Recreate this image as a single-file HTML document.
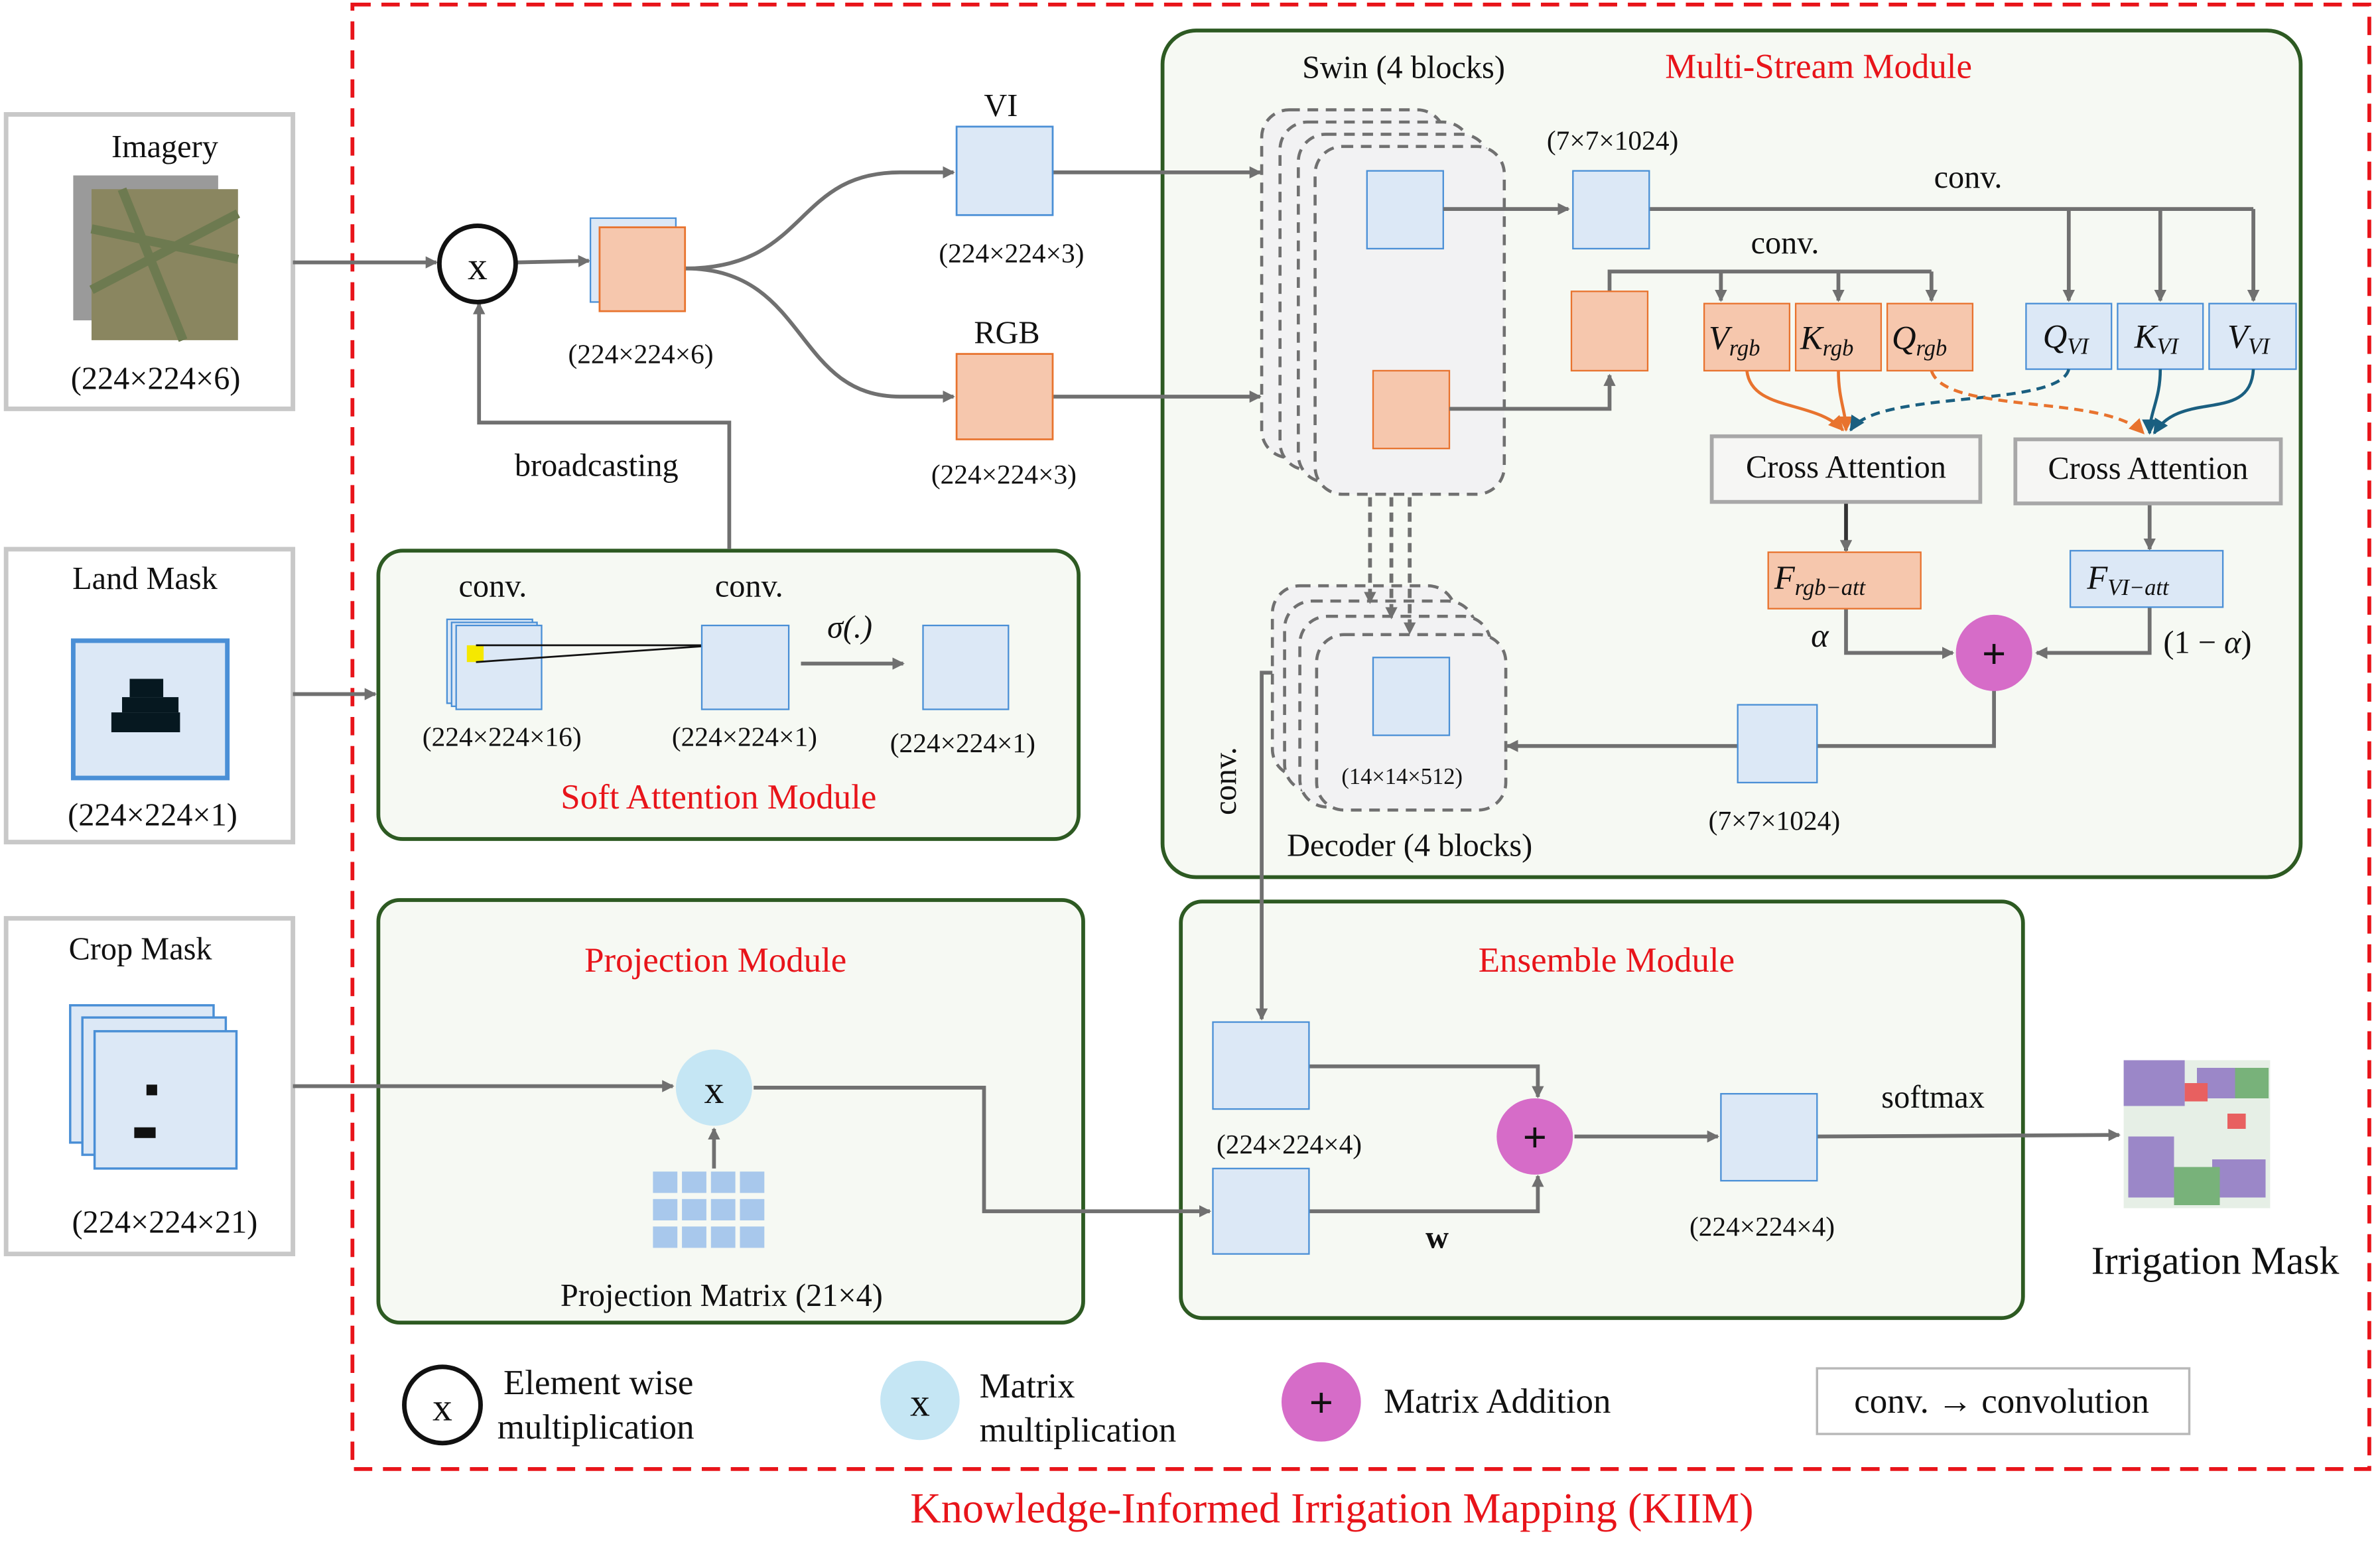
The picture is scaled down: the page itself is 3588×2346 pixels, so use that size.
<!DOCTYPE html>
<html><head><meta charset="utf-8"><style>
html,body{margin:0;padding:0;background:#fff;}
svg{display:block;}
text{font-family:"Liberation Serif",serif;fill:#111;}
.r{fill:#e8141a;}
.sm{font-size:18px;}
.md{font-size:21px;}
.it{font-style:italic;}
</style></head><body>
<svg width="3588" height="2346" viewBox="0 0 1560 1020" xmlns="http://www.w3.org/2000/svg">
<defs>
<marker id="a" markerWidth="8" markerHeight="8" refX="7" refY="4" orient="auto" markerUnits="userSpaceOnUse" viewBox="0 0 8 8"><path d="M0,0 L8,4 L0,8 z" fill="#707070"/></marker>
<marker id="ao" markerWidth="10" markerHeight="10" refX="9" refY="5" orient="auto" markerUnits="userSpaceOnUse" viewBox="0 0 10 10"><path d="M0,0 L10,5 L0,10 z" fill="#e8732e"/></marker>
<marker id="ab" markerWidth="10" markerHeight="10" refX="9" refY="5" orient="auto" markerUnits="userSpaceOnUse" viewBox="0 0 10 10"><path d="M0,0 L10,5 L0,10 z" fill="#1a5f80"/></marker>
</defs>
<g stroke="#707070" stroke-width="2.5" fill="none">
<!-- outer -->
<rect x="231" y="3" width="1322" height="960" stroke="#e8141a" stroke-dasharray="12,7"/>
</g>
<text x="873" y="998" class="r" font-size="28" text-anchor="middle">Knowledge-Informed Irrigation Mapping (KIIM)</text>

<!-- input boxes -->
<g fill="#fff" stroke="#c8c8c8" stroke-width="3">
<rect x="4" y="75" width="188" height="193"/>
<rect x="4" y="360" width="188" height="192"/>
<rect x="4" y="602" width="188" height="220"/>
</g>
<text x="108" y="103" class="md" text-anchor="middle">Imagery</text>
<rect x="48" y="115" width="95" height="95" fill="#9a9a9a"/>
<rect x="60" y="124" width="96" height="99" fill="#8a8660"/>
<path d="M60,150 L156,170 M80,124 L120,223 M60,190 L156,140" stroke="#6d7a50" stroke-width="6"/>
<text x="102" y="255" class="md" text-anchor="middle">(224×224×6)</text>
<text x="95" y="386" class="md" text-anchor="middle">Land Mask</text>
<rect x="48" y="420" width="101" height="90" fill="#dce8f6" stroke="#4a8fd6" stroke-width="3"/>
<g fill="#061820"><rect x="85" y="445" width="22" height="12"/><rect x="80" y="457" width="37" height="10"/><rect x="73" y="467" width="45" height="13"/></g>
<text x="100" y="541" class="md" text-anchor="middle">(224×224×1)</text>
<text x="92" y="629" class="md" text-anchor="middle">Crop Mask</text>
<g fill="#dce8f6" stroke="#4a8fd6" stroke-width="1.5">
<rect x="46" y="659" width="94" height="90"/><rect x="54" y="667" width="94" height="90"/><rect x="62" y="676" width="93" height="90"/>
</g>
<rect x="96" y="711" width="7" height="7" fill="#111"/><rect x="88" y="739" width="14" height="7" fill="#111"/>
<text x="108" y="808" class="md" text-anchor="middle">(224×224×21)</text>

<!-- modules -->
<g fill="#f6f9f3" stroke="#2d5a22" stroke-width="2.5">
<rect x="248" y="361" width="459" height="189" rx="16"/>
<rect x="762" y="20" width="746" height="555" rx="22"/>
<rect x="248" y="590" width="462" height="277" rx="14"/>
<rect x="774" y="591" width="552" height="273" rx="14"/>
</g>

<!-- top left flow -->
<g stroke="#707070" stroke-width="2.5" fill="none">
<path d="M192,172 L286,172" marker-end="url(#a)"/>
<path d="M339,172 L386,171" marker-end="url(#a)"/>
<path d="M478,360 L478,277 L314,277 L314,199" marker-end="url(#a)"/>
<path d="M449,176 C530,176 520,113 590,113 L625,113" marker-end="url(#a)"/>
<path d="M449,176 C530,176 520,260 590,260 L625,260" marker-end="url(#a)"/>
<path d="M690,113 L826,113" marker-end="url(#a)"/>
<path d="M690,260 L826,260" marker-end="url(#a)"/>
<path d="M192,455 L246,455" marker-end="url(#a)"/>
<path d="M192,712 L441,712" marker-end="url(#a)"/>
</g>
<circle cx="313" cy="173" r="25" fill="#fff" stroke="#111" stroke-width="3"/>
<text x="313" y="183" font-size="26" text-anchor="middle">x</text>
<rect x="387" y="143" width="56" height="55" fill="#dce8f6" stroke="#4a8fd6" stroke-width="1"/>
<rect x="393" y="149" width="56" height="55" fill="#f6c7ad" stroke="#e8732e" stroke-width="1.2"/>
<text x="420" y="238" class="sm" text-anchor="middle">(224×224×6)</text>
<text x="391" y="312" class="md" text-anchor="middle">broadcasting</text>
<rect x="627" y="83" width="63" height="58" fill="#dce8f6" stroke="#4a8fd6" stroke-width="1.2"/>
<text x="656" y="76" class="md" text-anchor="middle">VI</text>
<text x="663" y="172" class="sm" text-anchor="middle">(224×224×3)</text>
<rect x="627" y="232" width="63" height="56" fill="#f6c7ad" stroke="#e8732e" stroke-width="1.2"/>
<text x="660" y="225" class="md" text-anchor="middle">RGB</text>
<text x="658" y="317" class="sm" text-anchor="middle">(224×224×3)</text>

<!-- soft attention -->
<text x="323" y="391" class="md" text-anchor="middle">conv.</text>
<text x="491" y="391" class="md" text-anchor="middle">conv.</text>
<g fill="#dce8f6" stroke="#4a8fd6" stroke-width="1"><rect x="293" y="406" width="56" height="55"/><rect x="296" y="408" width="56" height="55"/><rect x="299" y="410" width="56" height="55"/></g>
<rect x="306" y="423" width="11" height="11" fill="#f5e800"/>
<path d="M312,423 L470,423 M312,434 L470,423" stroke="#111" stroke-width="1.2"/>
<rect x="460" y="410" width="57" height="55" fill="#dce8f6" stroke="#4a8fd6" stroke-width="1"/>
<rect x="605" y="410" width="56" height="55" fill="#dce8f6" stroke="#4a8fd6" stroke-width="1"/>
<path d="M525,435 L592,435" stroke="#707070" stroke-width="2.5" marker-end="url(#a)"/>
<text x="557" y="418" class="md it" text-anchor="middle">σ(.)</text>
<text x="329" y="489" class="sm" text-anchor="middle">(224×224×16)</text>
<text x="488" y="489" class="sm" text-anchor="middle">(224×224×1)</text>
<text x="631" y="493" class="sm" text-anchor="middle">(224×224×1)</text>
<text x="471" y="530" class="r" font-size="23" text-anchor="middle">Soft Attention Module</text>

<!-- multi-stream -->
<text x="920" y="51" class="md" text-anchor="middle">Swin (4 blocks)</text>
<text x="1192" y="51" class="r" font-size="23" text-anchor="middle">Multi-Stream Module</text>
<g fill="#f2f2f3" stroke="#707070" stroke-width="2" stroke-dasharray="7,5">
<rect x="827" y="72" width="120" height="228" rx="18"/>
<rect x="839" y="80" width="125" height="228" rx="18"/>
<rect x="851" y="88" width="125" height="228" rx="18"/>
<rect x="862" y="96" width="124" height="228" rx="18"/>
<rect x="834" y="384" width="120" height="125" rx="18"/>
<rect x="842" y="394" width="125" height="125" rx="18"/>
<rect x="852" y="404" width="125" height="125" rx="18"/>
<rect x="863" y="416" width="124" height="115" rx="18"/>
</g>
<rect x="896" y="112" width="50" height="51" fill="#dce8f6" stroke="#4a8fd6" stroke-width="1"/>
<rect x="900" y="243" width="50" height="51" fill="#f6c7ad" stroke="#e8732e" stroke-width="1"/>
<rect x="900" y="431" width="50" height="51" fill="#dce8f6" stroke="#4a8fd6" stroke-width="1"/>
<text x="919" y="514" font-size="15" text-anchor="middle">(14×14×512)</text>
<text x="924" y="561" class="md" text-anchor="middle">Decoder (4 blocks)</text>
<text x="810" y="512" class="md" text-anchor="middle" transform="rotate(-90 810 512)">conv.</text>
<g stroke="#707070" stroke-width="2.5" fill="none">
<path d="M898,326 L898,395" stroke-dasharray="6,4" marker-end="url(#a)"/>
<path d="M912,326 L912,405" stroke-dasharray="6,4" marker-end="url(#a)"/>
<path d="M924,326 L924,415" stroke-dasharray="6,4" marker-end="url(#a)"/>
<path d="M946,137 L1028,137" marker-end="url(#a)"/>
<path d="M950,268 L1055,268 L1055,246" marker-end="url(#a)"/>
<path d="M1081,137 L1477,137"/>
<path d="M1356,137 L1356,197" marker-end="url(#a)"/>
<path d="M1416,137 L1416,197" marker-end="url(#a)"/>
<path d="M1477,137 L1477,197" marker-end="url(#a)"/>
<path d="M1055,191 L1055,178 L1266,178"/>
<path d="M1128,178 L1128,197" marker-end="url(#a)"/>
<path d="M1205,178 L1205,197" marker-end="url(#a)"/>
<path d="M1266,178 L1266,197" marker-end="url(#a)"/>
<path d="M1210,329 L1210,361" stroke="#333" marker-end="url(#a)"/>
<path d="M1409,331 L1409,360" marker-end="url(#a)"/>
<path d="M1210,398 L1210,428 L1280,428" marker-end="url(#a)"/>
<path d="M1409,398 L1409,428 L1335,428" marker-end="url(#a)"/>
<path d="M1307,452 L1307,489 L1191,489"/>
<path d="M1139,489 L988,489" marker-end="url(#a)"/>
<path d="M834,441 L827,441 L827,668" marker-end="url(#a)"/>
</g>
<rect x="1031" y="112" width="50" height="51" fill="#dce8f6" stroke="#4a8fd6" stroke-width="1"/>
<text x="1057" y="98" class="sm" text-anchor="middle">(7×7×1024)</text>
<text x="1290" y="123" class="md" text-anchor="middle">conv.</text>
<text x="1170" y="166" class="md" text-anchor="middle">conv.</text>
<rect x="1030" y="191" width="50" height="52" fill="#f6c7ad" stroke="#e8732e" stroke-width="1"/>
<g fill="#f6c7ad" stroke="#e8732e" stroke-width="1"><rect x="1117" y="199" width="56" height="44"/><rect x="1177" y="199" width="56" height="44"/><rect x="1237" y="199" width="56" height="44"/><rect x="1159" y="362" width="100" height="37"/></g>
<g fill="#dce8f6" stroke="#4a8fd6" stroke-width="1"><rect x="1328" y="199" width="56" height="43"/><rect x="1388" y="199" width="56" height="43"/><rect x="1448" y="199" width="57" height="43"/><rect x="1357" y="361" width="100" height="37"/><rect x="1139" y="462" width="52" height="51"/></g>
<g class="it" font-size="22"><text x="1120" y="229">V<tspan font-size="15" dy="4">rgb</tspan></text><text x="1180" y="229">K<tspan font-size="15" dy="4">rgb</tspan></text><text x="1240" y="229">Q<tspan font-size="15" dy="4">rgb</tspan></text>
<text x="1339" y="228">Q<tspan font-size="15" dy="4">VI</tspan></text><text x="1399" y="228">K<tspan font-size="15" dy="4">VI</tspan></text><text x="1460" y="228">V<tspan font-size="15" dy="4">VI</tspan></text>
<text x="1163" y="386">F<tspan font-size="15" dy="4">rgb−att</tspan></text><text x="1368" y="386">F<tspan font-size="15" dy="4">VI−att</tspan></text>
<text x="1187" y="424">α</text></g>
<text x="1418" y="428" font-size="21">(1 − <tspan class="it">α</tspan>)</text>
<g fill="none" stroke-width="2">
<path d="M1145,243 C1148,270 1190,262 1208,282" stroke="#e8732e" marker-end="url(#ao)"/>
<path d="M1205,243 C1205,262 1210,270 1210,282" stroke="#e8732e" marker-end="url(#ao)"/>
<path d="M1356,242 C1350,268 1230,255 1213,282" stroke="#1a5f80" stroke-dasharray="6,4" marker-end="url(#ab)"/>
<path d="M1266,243 C1275,272 1380,258 1405,284" stroke="#e8732e" stroke-dasharray="6,4" marker-end="url(#ao)"/>
<path d="M1416,242 C1416,262 1409,270 1409,284" stroke="#1a5f80" marker-end="url(#ab)"/>
<path d="M1477,242 C1475,278 1430,255 1412,284" stroke="#1a5f80" marker-end="url(#ab)"/>
</g>
<g fill="#f6f6f4" stroke="#a8a8a8" stroke-width="2.5"><rect x="1122" y="286" width="176" height="43"/><rect x="1321" y="288" width="174" height="42"/></g>
<text x="1210" y="313" class="md" text-anchor="middle">Cross Attention</text>
<text x="1408" y="314" class="md" text-anchor="middle">Cross Attention</text>
<circle cx="1307" cy="428" r="25" fill="#d66cc8"/>
<text x="1307" y="438" font-size="28" font-weight="bold" text-anchor="middle">+</text>
<text x="1163" y="544" class="sm" text-anchor="middle">(7×7×1024)</text>

<!-- projection -->
<text x="469" y="637" class="r" font-size="23" text-anchor="middle">Projection Module</text>
<circle cx="468" cy="713" r="25" fill="#c5e6f4"/>
<text x="468" y="723" font-size="26" text-anchor="middle">x</text>
<g fill="#a8c8ec"><rect x="428" y="768" width="16" height="14"/><rect x="447" y="768" width="16" height="14"/><rect x="466" y="768" width="16" height="14"/><rect x="485" y="768" width="16" height="14"/>
<rect x="428" y="786" width="16" height="14"/><rect x="447" y="786" width="16" height="14"/><rect x="466" y="786" width="16" height="14"/><rect x="485" y="786" width="16" height="14"/>
<rect x="428" y="804" width="16" height="14"/><rect x="447" y="804" width="16" height="14"/><rect x="466" y="804" width="16" height="14"/><rect x="485" y="804" width="16" height="14"/></g>
<text x="473" y="856" class="md" text-anchor="middle">Projection Matrix (21×4)</text>
<g stroke="#707070" stroke-width="2.5" fill="none">
<path d="M468,766 L468,740" marker-end="url(#a)"/>
<path d="M494,713 L645,713 L645,794 L793,794" marker-end="url(#a)"/>
<path d="M858,699 L1008,699 L1008,719" marker-end="url(#a)"/>
<path d="M858,794 L1008,794 L1008,771" marker-end="url(#a)"/>
<path d="M1032,745 L1126,745" marker-end="url(#a)"/>
<path d="M1191,745 L1389,744" marker-end="url(#a)"/>
</g>

<!-- ensemble -->
<text x="1053" y="637" class="r" font-size="23" text-anchor="middle">Ensemble Module</text>
<rect x="795" y="670" width="63" height="57" fill="#dce8f6" stroke="#4a8fd6" stroke-width="1"/>
<rect x="795" y="766" width="63" height="56" fill="#dce8f6" stroke="#4a8fd6" stroke-width="1"/>
<rect x="1128" y="717" width="63" height="57" fill="#dce8f6" stroke="#4a8fd6" stroke-width="1"/>
<text x="845" y="756" class="sm" text-anchor="middle">(224×224×4)</text>
<text x="1155" y="810" class="sm" text-anchor="middle">(224×224×4)</text>
<text x="942" y="818" class="md" font-weight="bold" text-anchor="middle">w</text>
<text x="1267" y="726" class="md" text-anchor="middle">softmax</text>
<circle cx="1006" cy="745" r="25" fill="#d66cc8"/>
<text x="1006" y="755" font-size="28" font-weight="bold" text-anchor="middle">+</text>

<!-- irrigation mask -->
<rect x="1392" y="695" width="96" height="97" fill="#e6efe6"/>
<g fill="#9b87c8"><rect x="1392" y="695" width="40" height="30"/><rect x="1440" y="700" width="25" height="20"/><rect x="1395" y="745" width="30" height="40"/><rect x="1450" y="760" width="35" height="25"/></g>
<g fill="#e86060"><rect x="1432" y="710" width="15" height="12"/><rect x="1460" y="730" width="12" height="10"/></g>
<g fill="#78b27a"><rect x="1465" y="700" width="22" height="20"/><rect x="1425" y="765" width="30" height="25"/></g>
<text x="1452" y="835" font-size="26" text-anchor="middle">Irrigation Mask</text>

<!-- legend -->
<circle cx="290" cy="921" r="25" fill="#fff" stroke="#111" stroke-width="3"/>
<text x="290" y="931" font-size="26" text-anchor="middle">x</text>
<text x="330" y="914" font-size="23">Element wise</text>
<text x="326" y="943" font-size="23">multiplication</text>
<circle cx="603" cy="918" r="26" fill="#c5e6f4"/>
<text x="603" y="928" font-size="26" text-anchor="middle">x</text>
<text x="642" y="916" font-size="23">Matrix</text>
<text x="642" y="945" font-size="23">multiplication</text>
<circle cx="866" cy="919" r="26" fill="#d66cc8"/>
<text x="866" y="929" font-size="28" font-weight="bold" text-anchor="middle">+</text>
<text x="907" y="926" font-size="23">Matrix Addition</text>
<rect x="1191" y="897" width="244" height="43" fill="#fff" stroke="#b8b8b8" stroke-width="1.5"/>
<text x="1312" y="926" font-size="23" text-anchor="middle">conv. → convolution</text>
</svg>
</body></html>
